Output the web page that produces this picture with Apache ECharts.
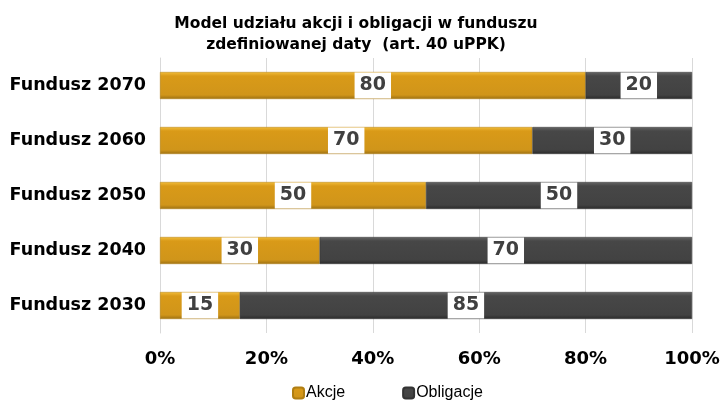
<!DOCTYPE html>
<html><head><meta charset="utf-8">
<script src="https://cdn.jsdelivr.net/npm/echarts@6/dist/echarts.min.js"></script>
<style>html,body{margin:0;padding:0;background:#fff}#c{width:723px;height:401px}</style>
</head><body><div id="c"></div>
<script>
const categories = ['Fundusz 2030','Fundusz 2040','Fundusz 2050','Fundusz 2060','Fundusz 2070'];
const akcje = [15, 30, 50, 70, 80];
const obligacje = [85, 70, 50, 30, 20];
const xTicks = [0, 20, 40, 60, 80, 100];

const chart = echarts.init(document.getElementById('c'));
const lbl = {
  show: true, position: 'inside', color: '#404040', fontFamily: 'DejaVu Sans', fontWeight: 'bold', fontSize: 19,
  backgroundColor: '#fff', padding: [3, 5, 1, 5], lineHeight: 22
};
chart.setOption({
  animation: false,
  title: {
    text: 'Model udziału akcji i obligacji w funduszu\nzdefiniowanej daty  (art. 40 uPPK)',
    left: 351, textAlign: 'center', top: 8,
    textStyle: { fontFamily: 'DejaVu Sans', fontWeight: 'bold', fontSize: 15.5, color: '#000', lineHeight: 21 }
  },
  legend: {
    top: 380, left: 287, itemGap: 57, itemWidth: 11, itemHeight: 11,
    textStyle: { fontFamily: 'Liberation Sans', fontSize: 16, color: '#000', padding: [0, 0, 0, -3] },
    data: ['Akcje', 'Obligacje']
  },
  grid: { left: 160, right: 31, top: 58, bottom: 68 },
  xAxis: {
    type: 'value', min: 0, max: 100, interval: 20,
    axisLine: { show: false }, axisTick: { show: false },
    splitLine: { lineStyle: { color: '#d9d9d9' } },
    axisLabel: { formatter: v => xTicks.includes(v) ? v + '%' : '', margin: 17,
      fontFamily: 'DejaVu Sans', fontWeight: 'bold', fontSize: 18, color: '#000' }
  },
  yAxis: {
    type: 'category', data: categories,
    axisLine: { show: true, lineStyle: { color: '#d9d9d9' } }, axisTick: { show: false },
    axisLabel: { fontFamily: 'DejaVu Sans', fontWeight: 'bold', fontSize: 17.5, color: '#000', margin: 14 }
  },
  series: [
    { name: 'Akcje', type: 'bar', stack: 's', data: akcje, barWidth: 27,
      itemStyle: { color: new echarts.graphic.LinearGradient(0,0,0,1,[
        {offset:0,color:'#F2BD3A'},{offset:0.15,color:'#D99A18'},{offset:0.85,color:'#D0951A'},{offset:1,color:'#9C7012'}]),
        borderColor: '#B07E12', borderWidth: 0.5 },
      label: lbl },
    { name: 'Obligacje', type: 'bar', stack: 's', data: obligacje, barWidth: 27,
      itemStyle: { color: new echarts.graphic.LinearGradient(0,0,0,1,[
        {offset:0,color:'#666'},{offset:0.15,color:'#474747'},{offset:0.85,color:'#424242'},{offset:1,color:'#2a2a2a'}]),
        borderColor: '#333', borderWidth: 0.5 },
      label: lbl }
  ]
});
</script></body></html>
